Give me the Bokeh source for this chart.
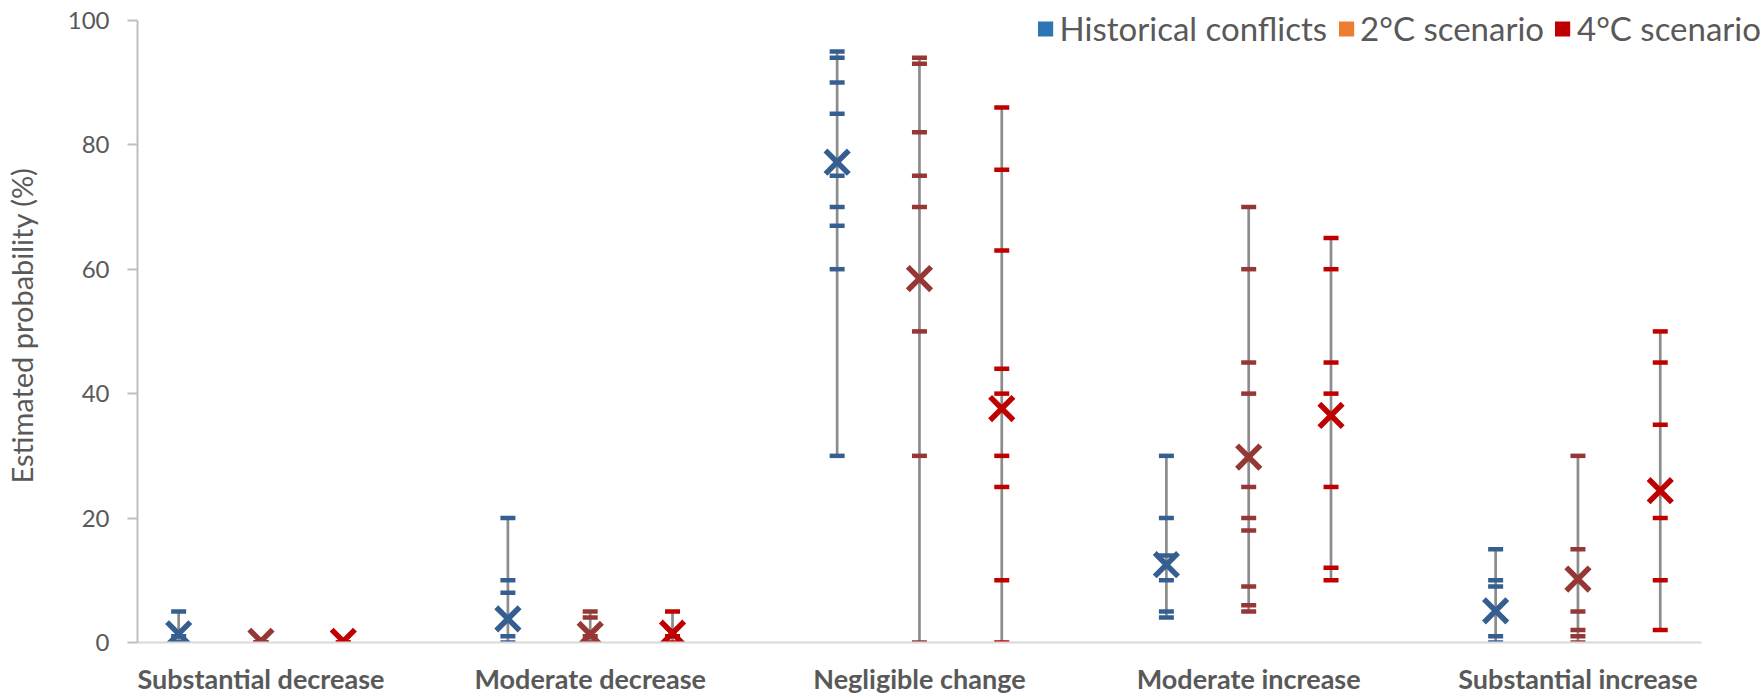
from bokeh.plotting import figure
from bokeh.models import Legend, LegendItem, FixedTicker
from bokeh.embed import file_html
from bokeh.resources import INLINE

categories = ["Substantial decrease", "Moderate decrease", "Negligible change",
              "Moderate increase", "Substantial increase"]
series_names = ["Historical conflicts", "2°C scenario", "4°C scenario"]

# individual expert estimates (%) per category
historical = [[0, 0, 1, 5], [0, 1, 8, 10, 20], [30, 60, 67, 70, 75, 85, 90, 94, 95],
              [4, 5, 10, 14, 20, 30], [0, 1, 9, 10, 15]]
scen2 = [[0, 0, 0], [0, 1, 4, 5], [0, 30, 50, 70, 75, 82, 93, 94],
         [5, 6, 9, 18, 20, 25, 40, 45, 60, 70], [0, 1, 2, 5, 15, 30]]
scen4 = [[0, 0], [0, 1, 5], [0, 10, 25, 30, 40, 44, 63, 76, 86],
         [10, 12, 25, 40, 45, 60, 65], [2, 10, 20, 35, 45, 50]]
# mean estimates (%)
historical_mean = [1.4, 3.8, 77.2, 12.5, 5.1]
scen2_mean = [0.2, 1.3, 58.5, 29.8, 10.2]
scen4_mean = [0.2, 1.5, 37.6, 36.5, 24.4]

y_ticks = [0, 20, 40, 60, 80, 100]

mark_colors = ["#365F91", "#953735", "#C00000"]
legend_colors = ["#2E75B6", "#ED7D31", "#C00000"]

p = figure(frame_width=1624, frame_height=634, output_backend="svg", toolbar_location=None,
           x_range=(-0.5, 19.23), y_range=(0, 101.9),
           min_border_left=131, min_border_right=0, min_border_top=8,
           min_border_bottom=40)
p.grid.visible = False
p.outline_line_color = None
p.background_fill_color = "white"

all_series = [(historical, historical_mean), (scen2, scen2_mean), (scen4, scen4_mean)]
for s, (vals, means) in enumerate(all_series):
    xs_seg, y0s, y1s = [], [], []
    xs_t, ys_t = [], []
    xs_m = []
    for g, v in enumerate(vals):
        x = 4 * g + s
        if max(v) > min(v):
            xs_seg.append(x)
            y0s.append(min(v))
            y1s.append(max(v))
        xs_t.extend([x] * len(v))
        ys_t.extend(v)
        xs_m.append(x)
    p.segment(x0=xs_seg, y0=y0s, x1=xs_seg, y1=y1s, line_color="#8C8C8C", line_width=2.7)
    p.rect(x=xs_t, y=ys_t, width=15, height=4.5, width_units="screen", height_units="screen",
           fill_color=mark_colors[s], line_color=None)
    p.scatter(x=xs_m, y=means, marker="x", size=33, line_width=5.5, line_color=mark_colors[s])

# legend entries (swatches drawn outside the visible range)
items = []
for s in range(3):
    r = p.vbar(x=[-100], top=[1], width=0.1, fill_color=legend_colors[s], line_color=None)
    items.append(LegendItem(label=series_names[s], renderers=[r]))
legend = Legend(items=items, orientation="horizontal", location="top_right",
                glyph_width=19, glyph_height=19, label_text_font="Lato",
                label_text_font_size="33px", label_text_color="#595959",
                label_standoff=5, spacing=9, padding=6, margin=0,
                border_line_color=None, background_fill_alpha=0)
p.add_layout(legend)

# axes
xa = p.xaxis[0]
xa.ticker = FixedTicker(ticks=[4 * g + 1 for g in range(5)])
xa.major_label_overrides = {4 * g + 1: c for g, c in enumerate(categories)}
xa.bounds = (-0.5, 18.5)
xa.axis_line_color = "#D9D9D9"
xa.axis_line_width = 2
xa.major_tick_line_color = None
xa.major_tick_out = 0
xa.minor_tick_line_color = None
xa.minor_tick_out = 0
xa.major_label_text_font = "Lato"
xa.major_label_text_font_style = "bold"
xa.major_label_text_font_size = "27px"
xa.major_label_text_color = "#595959"
xa.major_label_standoff = 19

ya = p.yaxis[0]
ya.ticker = FixedTicker(ticks=y_ticks)
ya.bounds = (0, 100)
ya.axis_line_color = "#BFBFBF"
ya.axis_line_width = 2
ya.major_tick_line_color = "#BFBFBF"
ya.major_tick_line_width = 2
ya.major_tick_out = 10
ya.major_tick_in = 0
ya.minor_tick_line_color = None
ya.major_label_text_font = "Lato"
ya.major_label_text_font_size = "24px"
ya.major_label_text_color = "#595959"
ya.major_label_standoff = 18
ya.axis_label = "Estimated probability (%)"
ya.axis_label_text_font = "Lato"
ya.axis_label_text_font_style = "normal"
ya.axis_label_text_font_size = "29px"
ya.axis_label_text_color = "#595959"
ya.axis_label_standoff = 26

open("out.html", "w").write(file_html(p, INLINE))
